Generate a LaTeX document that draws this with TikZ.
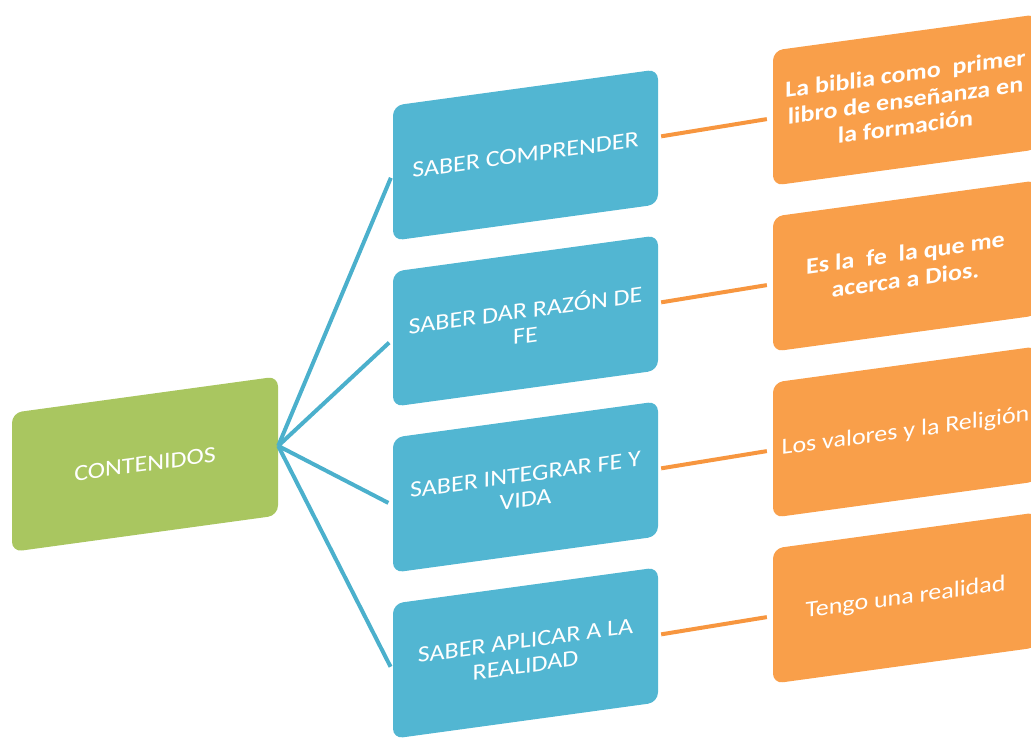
\documentclass[tikz,border=0pt]{standalone}
\usepackage{fontspec}
\setmainfont{Carlito}[FakeStretch=1.13]
\definecolor{cgreen}{HTML}{A9C660}
\definecolor{cblue}{HTML}{52B6D2}
\definecolor{corange}{HTML}{F99F4A}
\definecolor{lblue}{HTML}{4BB0CC}
\definecolor{lorange}{HTML}{F7963F}
\begin{document}
\begin{tikzpicture}[x=1pt,y=1pt,
  box/.style={draw=none, rounded corners=10pt, minimum width=265pt, minimum height=135pt,
    inner sep=0pt, align=center, text=white, font=\fontsize{23}{25}\selectfont, transform shape},
  greenbox/.style={box, fill=cgreen, minimum width=266pt, minimum height=139pt},
  bluebox/.style={box, fill=cblue},
  orangebox/.style={box, fill=corange},
  boldtext/.style={font=\fontsize{23}{26.5}\selectfont\bfseries},
  bline/.style={draw=lblue, line width=4pt, shorten >=5pt},
  oline/.style={draw=lorange, line width=4pt, shorten <=3pt, shorten >=6pt}]
\useasboundingbox (0,0) rectangle (1031,-739);
\begin{scope}
\clip (0,0) rectangle (1031,-739);
\begin{scope}[cm={1,0.137,0,1,(0,0)}]
\node[greenbox] (c) at (145,-484) {CONTENIDOS};
\node[bluebox] (b1) at (525.5,-227) {SABER COMPRENDER};
\node[bluebox] (b2) at (525.5,-393) {SABER DAR RAZÓN DE\\FE};
\node[bluebox] (b3) at (525.5,-559) {SABER INTEGRAR FE Y\\VIDA};
\node[bluebox] (b4) at (525.5,-725) {SABER APLICAR A LA\\REALIDAD};
\node[orangebox, boldtext] (o1) at (905.5,-224) {La biblia como\ \ primer\\libro de enseñanza en\\la formación};
\node[orangebox, boldtext] (o2) at (905.5,-390) {Es la\ \ fe\ \ la que me\\acerca a Dios.};
\node[orangebox] (o3) at (905.5,-556) {Los valores y la Religión};
\node[orangebox] (o4) at (905.5,-722) {Tengo una realidad};
\foreach \b in {b1,b2,b3,b4} \draw[bline] (c.east) -- (\b.west);
\draw[oline] (b1.east) -- (o1.west);
\draw[oline] (b2.east) -- (o2.west);
\draw[oline] (b3.east) -- (o3.west);
\draw[oline] (b4.east) -- (o4.west);
\end{scope}
\end{scope}
\end{tikzpicture}
\end{document}
